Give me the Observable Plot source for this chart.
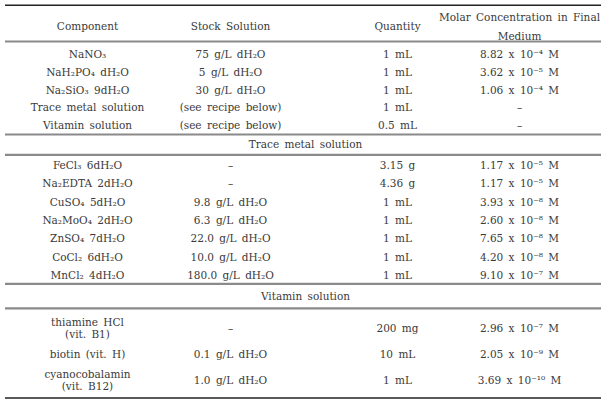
<!DOCTYPE html>
<html>
<head>
<meta charset="utf-8">
<script src="https://cdn.jsdelivr.net/npm/d3@7"></script>
<script src="https://cdn.jsdelivr.net/npm/@observablehq/plot@0.6"></script>
<style>
  html, body { margin: 0; padding: 0; background: #fff; }
  #chart svg { display: block; word-spacing: 2px; }
</style>
</head>
<body>
<div id="chart"></div>
<script>
// ---- data ----
const headers = ["Component", "Stock Solution", "Quantity", "Molar Concentration in Final\nMedium"];

const mainComponents = ["NaNO₃", "NaH₂PO₄ dH₂O", "Na₂SiO₃ 9dH₂O", "Trace metal solution", "Vitamin solution"];
const mainStock = ["75 g/L dH₂O", "5 g/L dH₂O", "30 g/L dH₂O", "(see recipe below)", "(see recipe below)"];
const mainQuantity = ["1 mL", "1 mL", "1 mL", "1 mL", "0.5 mL"];
const mainMolar = ["8.82 x 10⁻⁴ M", "3.62 x 10⁻⁵ M", "1.06 x 10⁻⁴ M", "–", "–"];

const sectionTitles = ["Trace metal solution", "Vitamin solution"];

const traceComponents = ["FeCl₃ 6dH₂O", "Na₂EDTA 2dH₂O", "CuSO₄ 5dH₂O", "Na₂MoO₄ 2dH₂O", "ZnSO₄ 7dH₂O", "CoCl₂ 6dH₂O", "MnCl₂ 4dH₂O"];
const traceStock = ["–", "–", "9.8 g/L dH₂O", "6.3 g/L dH₂O", "22.0 g/L dH₂O", "10.0 g/L dH₂O", "180.0 g/L dH₂O"];
const traceQuantity = ["3.15 g", "4.36 g", "1 mL", "1 mL", "1 mL", "1 mL", "1 mL"];
const traceMolar = ["1.17 x 10⁻⁵ M", "1.17 x 10⁻⁵ M", "3.93 x 10⁻⁸ M", "2.60 x 10⁻⁸ M", "7.65 x 10⁻⁸ M", "4.20 x 10⁻⁸ M", "9.10 x 10⁻⁷ M"];

const vitComponents = ["thiamine HCl\n(vit. B1)", "biotin (vit. H)", "cyanocobalamin\n(vit. B12)"];
const vitStock = ["–", "0.1 g/L dH₂O", "1.0 g/L dH₂O"];
const vitQuantity = ["200 mg", "10 mL", "1 mL"];
const vitMolar = ["2.96 x 10⁻⁷ M", "2.05 x 10⁻⁹ M", "3.69 x 10⁻¹⁰ M"];

// ---- layout (positions / styles only) ----
const W = 610, H = 405;
const layout = {
  colX: [87, 230, 397, 519],
  ruleX1: 5, ruleX2: 601,
  headerY: 23.8,
  groups: [
    {first: 53.5, step: 17.8},
    {first: 164.5, step: 18.3},
    {first: 327.5, step: 26}
  ],
  titleY: [144.5, 296],
  rules: [
    {y: 4.7, w: 1.6, c: "#222"},
    {y: 41, w: 2.2, c: "#8a8a8a"},
    {y: 134, w: 2.2, c: "#8a8a8a"},
    {y: 154.3, w: 2.2, c: "#8a8a8a"},
    {y: 283.3, w: 2.2, c: "#8a8a8a"},
    {y: 307.8, w: 2.2, c: "#8a8a8a"},
    {y: 397.5, w: 1.6, c: "#222"}
  ]
};
const font = "DejaVu Serif";
const fs = 10.5;
const ink = "#3a3a3a";

// ---- build table cells ----
const cells = [];
headers.forEach((t, c) => cells.push({text: t, col: c, y: layout.headerY, head: true}));
const groups = [
  [mainComponents, mainStock, mainQuantity, mainMolar],
  [traceComponents, traceStock, traceQuantity, traceMolar],
  [vitComponents, vitStock, vitQuantity, vitMolar]
];
groups.forEach((cols, g) => {
  const {first, step} = layout.groups[g];
  cols.forEach((arr, c) => arr.forEach((t, i) => cells.push({text: t, col: c, y: first + i * step, head: false})));
});
const titles = sectionTitles.map((t, i) => ({text: t, y: layout.titleY[i]}));

const chart = Plot.plot({
  width: W, height: H, margin: 0,
  x: {domain: [0, W], range: [0, W], axis: null},
  y: {domain: [0, H], range: [0, H], axis: null},
  style: {background: "#fff"},
  marks: [
    Plot.ruleY(layout.rules, {y: "y", x1: layout.ruleX1, x2: layout.ruleX2, stroke: "c", strokeWidth: "w"}),
    Plot.text(cells.filter(d => d.head), {x: d => layout.colX[d.col], y: "y", text: "text", fill: ink, fontSize: fs, fontFamily: font, lineHeight: 1.78}),
    Plot.text(cells.filter(d => !d.head), {x: d => layout.colX[d.col], y: "y", text: "text", fill: ink, fontSize: fs, fontFamily: font, lineHeight: 1.2}),
    Plot.text(titles, {x: W / 2, y: "y", text: "text", fill: ink, fontSize: fs, fontFamily: font})
  ]
});
document.getElementById("chart").append(chart);
</script>
</body>
</html>
